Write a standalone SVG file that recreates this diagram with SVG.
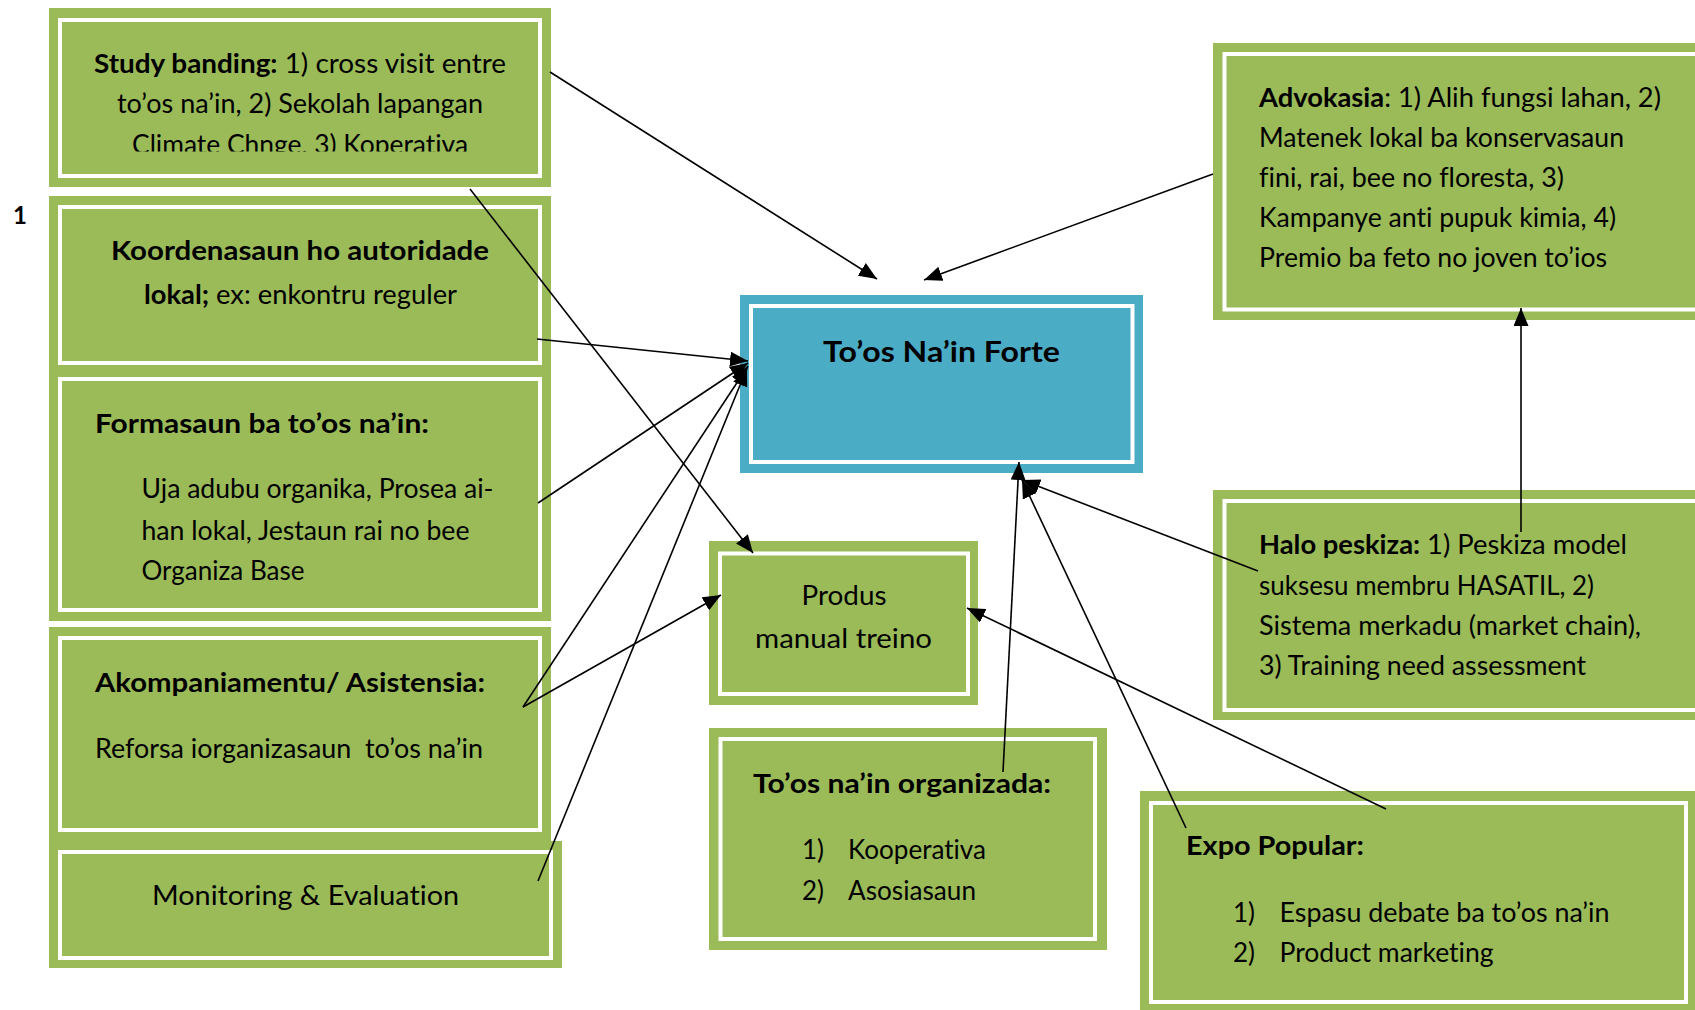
<svg xmlns="http://www.w3.org/2000/svg" width="1695" height="1010" viewBox="0 0 1695 1010">
<style>
.g{fill:#9BBB59}
.bl{fill:#4BACC6}
.w{fill:none;stroke:#FFFFFF;stroke-width:4}
.t{font-family:Lato,"Liberation Sans",sans-serif;font-size:26px;fill:#000;font-variant-ligatures:none}
.b{font-weight:bold}
.c{text-anchor:middle}
.ln{fill:none;stroke:#000;stroke-width:1.6;marker-end:url(#ah)}
</style>
<defs>
<marker id="ah" markerUnits="userSpaceOnUse" markerWidth="18" markerHeight="15" refX="18" refY="7.5" orient="auto" viewBox="0 0 18 15"><path d="M0,0 L18,7.5 L0,15 z" fill="#000"/></marker>
<clipPath id="clipA"><rect x="49" y="8" width="502" height="143.5"/></clipPath>
</defs>
<rect width="1695" height="1010" fill="#FFFFFF"/>

<text class="t b" x="13" y="224" style="font-size:24px">1</text>

<g id="study-banding">
<rect class="g" x="49" y="8" width="502" height="179"/>
<rect class="w" x="60" y="20" width="480" height="156"/>
<g clip-path="url(#clipA)">
<text class="t c" x="300" y="73" textLength="412" lengthAdjust="spacingAndGlyphs"><tspan class="b">Study banding:</tspan> 1) cross visit entre</text>
<text class="t c" x="300" y="113" textLength="366" lengthAdjust="spacingAndGlyphs">to’os na’in, 2) Sekolah lapangan</text>
<text class="t c" x="300" y="154" textLength="336" lengthAdjust="spacingAndGlyphs">Climate Chnge, 3) Koperativa</text>
</g>
</g>

<g id="koordenasaun">
<rect class="g" x="49" y="196" width="502" height="178"/>
<rect class="w" x="60" y="207" width="480" height="156"/>
<text class="t c b" x="300" y="260" textLength="378" lengthAdjust="spacingAndGlyphs">Koordenasaun ho autoridade</text>
<text class="t c" x="300.5" y="304" textLength="313" lengthAdjust="spacingAndGlyphs"><tspan class="b">lokal;</tspan> ex: enkontru reguler</text>
</g>

<g id="formasaun">
<rect class="g" x="49" y="374" width="502" height="247"/>
<rect class="w" x="60" y="379" width="480" height="231"/>
<text class="t b" x="95" y="433" textLength="334" lengthAdjust="spacingAndGlyphs">Formasaun ba to’os na’in:</text>
<text class="t" x="141.5" y="498" textLength="352" lengthAdjust="spacingAndGlyphs">Uja adubu organika, Prosea ai-</text>
<text class="t" x="141.5" y="540" textLength="328" lengthAdjust="spacingAndGlyphs">han lokal, Jestaun rai no bee</text>
<text class="t" x="141.5" y="580" textLength="163" lengthAdjust="spacingAndGlyphs">Organiza Base</text>
</g>

<g id="akompaniamentu">
<rect class="g" x="49" y="627" width="502" height="221"/>
<rect class="w" x="60" y="638" width="480" height="192"/>
<text class="t b" x="95" y="692" textLength="390" lengthAdjust="spacingAndGlyphs">Akompaniamentu/ Asistensia:</text>
<text class="t" x="95" y="758" textLength="388" lengthAdjust="spacingAndGlyphs" xml:space="preserve">Reforsa iorganizasaun  to’os na’in</text>
</g>

<g id="monitoring">
<rect class="g" x="49" y="841" width="513" height="127"/>
<rect class="w" x="60" y="852" width="491" height="106"/>
<text class="t c" x="305.5" y="905" textLength="307" lengthAdjust="spacingAndGlyphs">Monitoring &amp; Evaluation</text>
</g>

<g id="toos-nain-forte">
<rect class="bl" x="740" y="295" width="403" height="178"/>
<rect class="w" x="751" y="306" width="381.5" height="156"/>
<text class="t c b" x="941.5" y="362" textLength="237" lengthAdjust="spacingAndGlyphs" style="font-size:28px">To’os Na’in Forte</text>
</g>

<g id="produs">
<rect class="g" x="709" y="541" width="269" height="164"/>
<rect class="w" x="720" y="553.5" width="248" height="140.5"/>
<text class="t c" x="844" y="605" textLength="85" lengthAdjust="spacingAndGlyphs">Produs</text>
<text class="t c" x="843.5" y="648" textLength="177" lengthAdjust="spacingAndGlyphs">manual treino</text>
</g>

<g id="organizada">
<rect class="g" x="709" y="728" width="398" height="222"/>
<rect class="w" x="720.5" y="739" width="374.5" height="200"/>
<text class="t b" x="753" y="793" textLength="298" lengthAdjust="spacingAndGlyphs">To’os na’in organizada:</text>
<text class="t" x="802" y="859">1)</text>
<text class="t" x="848" y="859" textLength="138" lengthAdjust="spacingAndGlyphs">Kooperativa</text>
<text class="t" x="802" y="900">2)</text>
<text class="t" x="848" y="900" textLength="128" lengthAdjust="spacingAndGlyphs">Asosiasaun</text>
</g>

<g id="expo-popular">
<rect class="g" x="1140" y="791" width="560" height="224"/>
<rect class="w" x="1151" y="803" width="535" height="199"/>
<text class="t b" x="1186" y="855" textLength="178" lengthAdjust="spacingAndGlyphs">Expo Popular:</text>
<text class="t" x="1233" y="922">1)</text>
<text class="t" x="1279.5" y="922" textLength="330" lengthAdjust="spacingAndGlyphs">Espasu debate ba to’os na’in</text>
<text class="t" x="1233" y="962">2)</text>
<text class="t" x="1279.5" y="962" textLength="214" lengthAdjust="spacingAndGlyphs">Product marketing</text>
</g>

<g id="advokasia">
<rect class="g" x="1213" y="43" width="490" height="277"/>
<rect class="w" x="1224.5" y="54" width="490" height="255.5"/>
<text class="t" x="1259" y="107" textLength="402" lengthAdjust="spacingAndGlyphs"><tspan class="b">Advokasia</tspan>: 1) Alih fungsi lahan, 2)</text>
<text class="t" x="1259" y="147" textLength="365" lengthAdjust="spacingAndGlyphs">Matenek lokal ba konservasaun</text>
<text class="t" x="1259" y="187" textLength="305" lengthAdjust="spacingAndGlyphs">fini, rai, bee no floresta, 3)</text>
<text class="t" x="1259" y="227" textLength="357" lengthAdjust="spacingAndGlyphs">Kampanye anti pupuk kimia, 4)</text>
<text class="t" x="1259" y="267" textLength="348" lengthAdjust="spacingAndGlyphs">Premio ba feto no joven to’ios</text>
</g>

<g id="halo-peskiza">
<rect class="g" x="1213" y="490" width="490" height="230"/>
<rect class="w" x="1224.5" y="501" width="490" height="209"/>
<text class="t" x="1259" y="554" textLength="368" lengthAdjust="spacingAndGlyphs"><tspan class="b">Halo peskiza:</tspan> 1) Peskiza model</text>
<text class="t" x="1259" y="595" textLength="335" lengthAdjust="spacingAndGlyphs">suksesu membru HASATIL, 2)</text>
<text class="t" x="1259" y="635" textLength="382" lengthAdjust="spacingAndGlyphs">Sistema merkadu (market chain),</text>
<text class="t" x="1259" y="675" textLength="327" lengthAdjust="spacingAndGlyphs">3) Training need assessment</text>
</g>

<g id="connectors">
<path class="ln" d="M550,72 L877,279"/>
<path class="ln" d="M1213,174 L924,280"/>
<path class="ln" d="M537,339 L748,361"/>
<path class="ln" d="M538,503 L748,363"/>
<path class="ln" d="M523,707 L748,366"/>
<path class="ln" d="M523,707 L721,595"/>
<path class="ln" d="M538,881 L747,368"/>
<path class="ln" d="M470,189 L753,553"/>
<path class="ln" d="M1258,571 L1022,480"/>
<path class="ln" d="M1521,532 L1521,308"/>
<path class="ln" d="M1003,772 L1019,462"/>
<path class="ln" d="M1186,828 L1022,480"/>
<path class="ln" d="M1386,809 L967,608"/>
</g>
</svg>
